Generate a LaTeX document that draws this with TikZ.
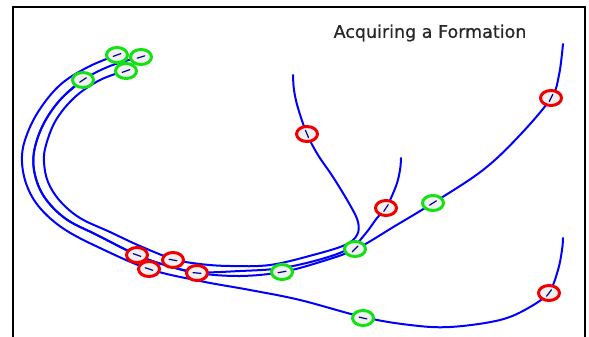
\documentclass[tikz,border=0pt]{standalone}
\usepackage{fontspec}
\newfontfamily\titlefont[FakeBold=0.7]{DejaVu Sans}
\usetikzlibrary{shapes.geometric}

\tikzset{
  traj/.style={blue, line width=2pt, line cap=round, line join=round},
  ring/.style={ellipse, minimum width=21pt, minimum height=15pt, inner sep=0pt, line width=3pt, fill=black!6},
  gring/.style={ring, draw={rgb,255:red,20;green,225;blue,20}},
  rring/.style={ring, draw={rgb,255:red,240;green,0;blue,0}},
  hdg/.style={blue!55!black, line width=1.2pt, line cap=round}
}
% heading tick inside a marker: node name, angle
\newcommand{\headingmark}[2]{\draw[hdg] (#1.center) ++(#2:4pt) -- ++(#2+180:8pt);}

\begin{document}
\begin{tikzpicture}[x=1pt, y=-1pt]
\useasboundingbox (0,0) rectangle (589,337);

% plot frame
\draw[black, line width=2.2pt] (13,337) -- (13,7) -- (585,7) -- (585,337);

\node[font=\titlefont\fontsize{17.5}{20}\selectfont, text=black!85] (title) at (430,33) {Acquiring a Formation};

% outer lane: robot from the lower right
\draw[traj] plot[smooth, tension=0.6] coordinates {
  (117,55) (88,67) (60,85) (38,112) (25,140) (22,162) (27,186) (40,208)
  (64,229) (100,248) (149,269) (200,281) (250,290) (300,300) (363,317)
  (410,325) (450,327) (500,320) (530,307) (549,292) (558,270) (562,250) (563,238)};

% inner lane: robot from the top middle
\draw[traj] plot[smooth, tension=0.6] coordinates {
  (125,71) (100,80) (75,97) (56,120) (46,145) (44,162) (48,182) (60,201)
  (80,218) (110,232) (140,246) (173,259) (200,264) (230,266) (270,265)
  (313,255) (345,245) (357,235) (358,222) (350,205) (333,177) (318,155)
  (307,134) (298,108) (294,90) (293,75)};

% middle lane: robot from the upper right
\draw[traj] plot[smooth, tension=0.6] coordinates {
  (140,57) (110,66) (83,80) (60,100) (43,125) (34,152) (35,175) (45,198)
  (66,219) (97,235) (137,255) (165,265) (197,273) (240,276) (282,272)
  (320,262) (356,249) (395,226) (433,203) (483,170) (520,135) (551,98)
  (559,75) (563,44)};

% middle lane: robot from the short branch
\draw[traj] plot[smooth, tension=0.6] coordinates {
  (83,80) (60,100) (43,125) (34,152) (35,175) (45,198)
  (66,219) (97,235) (137,255) (165,265) (197,272) (240,271) (282,268)
  (325,258) (352,247) (366,233) (377,218) (386,208) (396,186) (400,170) (401,158)};

% green markers
\node[gring] (g1) at (117,55) {};
\node[gring] (g2) at (141,57) {};
\node[gring] (g3) at (126,71) {};
\node[gring] (g4) at (83,80) {};
\node[gring] (g5) at (282,272) {};
\node[gring] (g6) at (355,249) {};
\node[gring] (g7) at (433,203) {};
\node[gring] (g8) at (363,318) {};

% red markers
\node[rring] (r1) at (307,134) {};
\node[rring] (r2) at (386,208) {};
\node[rring] (r3) at (551,98) {};
\node[rring] (r4) at (549,293) {};
\node[rring] (r5) at (137,255) {};
\node[rring] (r6) at (149,269) {};
\node[rring] (r7) at (173,260) {};
\node[rring] (r8) at (197,273) {};

% headings
\headingmark{g1}{20}
\headingmark{g2}{17}
\headingmark{g3}{20}
\headingmark{g4}{34}
\headingmark{g5}{10}
\headingmark{g6}{45}
\headingmark{g7}{32}
\headingmark{g8}{-13}
\headingmark{r1}{-67}
\headingmark{r2}{57}
\headingmark{r3}{64}
\headingmark{r4}{53}
\headingmark{r5}{-20}
\headingmark{r6}{-18}
\headingmark{r7}{-10}
\headingmark{r8}{-5}
\end{tikzpicture}
\end{document}
